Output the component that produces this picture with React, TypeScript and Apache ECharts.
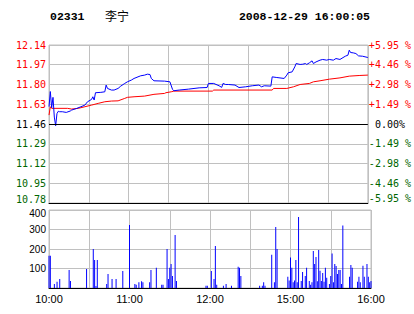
import React, { useEffect, useRef } from "react";
import * as echarts from "echarts";

const stockCode = "02331";
const stockName = "李宁";
const stamp = "2008-12-29 16:00:05";
const prevClose = 11.46;

const priceTicks = ["12.14", "11.97", "11.80", "11.63", "11.46", "11.29", "11.12", "10.95", "10.78"];
const pctTicks = ["+5.95 %", "+4.46 %", "+2.98 %", "+1.49 %", "\u00a00.00%", "-1.49 %", "-2.98 %", "-4.46 %", "-5.95 %"];
const volTicks = ["", "100", "200", "300", "400"];
const timeTickMinutes = [0, 60, 120, 180, 240];
const timeTickLabels = ["10:00", "11:00", "12:00", "15:00", "16:00"];

// [minute since 10:00 (trading minutes), price]
const priceSeries: [number, number][] = [
  [0, 11.61], [1, 11.74], [2, 11.6], [3, 11.69], [4, 11.52], [5, 11.445], [6, 11.55], [7, 11.57],
  [8, 11.566], [10, 11.566], [13, 11.56], [16, 11.572], [17, 11.58], [21, 11.595], [24, 11.609],
  [27, 11.623], [29, 11.652], [32, 11.672], [33, 11.695], [34, 11.667], [35, 11.73], [39, 11.733],
  [42, 11.738], [43, 11.796], [44, 11.767], [47, 11.753], [49, 11.753], [52, 11.767], [54, 11.787],
  [57, 11.81], [59, 11.824], [62, 11.839], [64, 11.853], [67, 11.867], [69, 11.876], [72, 11.882],
  [74, 11.89], [76, 11.887], [77, 11.853], [79, 11.833], [87, 11.83], [91, 11.824], [93, 11.758],
  [94, 11.747], [98, 11.753], [105, 11.761], [113, 11.772], [119, 11.775], [120, 11.81], [124, 11.81],
  [128, 11.79], [130, 11.776], [131, 11.81], [133, 11.801], [135, 11.801], [140, 11.796], [143, 11.775],
  [148, 11.781], [153, 11.79], [158, 11.796], [160, 11.781], [162, 11.79], [167, 11.787], [168, 11.867],
  [171, 11.862], [177, 11.853], [179, 11.882], [180, 11.902], [183, 11.91], [185, 11.953], [186, 11.982],
  [189, 11.974], [191, 11.976], [193, 11.982], [194, 11.974], [196, 11.988], [198, 12.005], [199, 11.982],
  [201, 11.996], [204, 12.011], [206, 12.017], [209, 12.011], [211, 12.017], [214, 12.011], [216, 12.025],
  [219, 12.017], [223, 12.045], [225, 12.054], [226, 12.097], [227, 12.077], [229, 12.074], [231, 12.068],
  [233, 12.048], [236, 12.045], [240, 12.034],
];

const avgSeries: [number, number][] = [
  [0, 11.537], [1, 11.609], [2, 11.595], [14, 11.595], [17, 11.589], [22, 11.595], [27, 11.609],
  [32, 11.623], [37, 11.638], [42, 11.652], [47, 11.658], [52, 11.66], [57, 11.681], [59, 11.69],
  [64, 11.695], [72, 11.701], [79, 11.716], [87, 11.724], [88, 11.73], [92, 11.738], [94, 11.744],
  [123, 11.744], [124, 11.753], [168, 11.753], [169, 11.767], [179, 11.767], [184, 11.781],
  [189, 11.801], [196, 11.81], [199, 11.824], [204, 11.833], [211, 11.847], [219, 11.858],
  [226, 11.873], [234, 11.879], [240, 11.882],
];

const volumes: [number, number][] = [
  [0, 165], [1, 165], [4, 20], [6, 32], [8, 46], [15, 92], [16, 36], [28, 97], [33, 200], [34, 143],
  [35, 10], [36, 143], [43, 20], [44, 72], [47, 46], [50, 46], [55, 87], [60, 323], [64, 20], [65, 17],
  [67, 30], [69, 34], [70, 30], [75, 30], [76, 92], [80, 104], [84, 17], [85, 17], [88, 200], [89, 46],
  [90, 104], [91, 123], [92, 61], [94, 272], [95, 36], [117, 12], [118, 12], [121, 87], [123, 46],
  [124, 215], [125, 17], [130, 12], [132, 20], [136, 12], [141, 109], [142, 104], [143, 61], [157, 12],
  [159, 12], [160, 29], [161, 12], [166, 170], [168, 29], [169, 313], [170, 200], [178, 58], [179, 38],
  [180, 156], [181, 104], [182, 29], [183, 38], [184, 143], [185, 29], [186, 364], [188, 36], [189, 82],
  [191, 61], [192, 104], [194, 36], [195, 17], [196, 29], [197, 190], [198, 123], [199, 159], [200, 34],
  [201, 195], [202, 89], [203, 36], [204, 77], [205, 32], [206, 104], [207, 52], [209, 20], [210, 61],
  [211, 177], [212, 29], [213, 123], [214, 113], [215, 72], [216, 92], [217, 92], [218, 20], [219, 320],
  [224, 58], [225, 118], [226, 104], [230, 32], [231, 58], [232, 29], [234, 114], [235, 58], [237, 123],
  [238, 58], [239, 29], [240, 36],
];

const RED = "#ff0000";
const GREEN = "#006600";
const BLUE = "#0000ff";
const GRID = "#c0c0c0";
const MONO = "DejaVu Sans Mono";
const SANS = "Liberation Sans";

const toPct = (p: number) => (p / prevClose - 1) * 100;
const tickIdx = (v: number) => Math.round((5.95 - v) / 1.4875);
const signStyle = (v: number) => (v > 0.001 ? "r" : v < -0.001 ? "g" : "k");

const monoRich = (padBottom: number) => ({
  r: { color: RED, fontFamily: MONO, fontSize: 10 },
  g: { color: GREEN, fontFamily: MONO, fontSize: 10 },
  k: { color: "#000", fontFamily: MONO, fontSize: 10 },
  gl: { color: GREEN, fontFamily: MONO, fontSize: 10, padding: [0, 0, padBottom, 0] },
});

export default function App() {
  const ref = useRef<HTMLDivElement>(null);
  useEffect(() => {
    if (!ref.current) return;
    const chart = echarts.init(ref.current, null, { renderer: "svg" });
    const split = { show: true, lineStyle: { color: GRID, width: 1 } };
    const fmt = (labels: string[]) => (v: number) => {
      const i = tickIdx(v);
      const t = labels[i] ?? "";
      if (i === labels.length - 1) return `{gl|${t}}`;
      return `{${signStyle(v)}|${t}}`;
    };
    chart.setOption({
      animation: false,
      backgroundColor: "#fff",
      grid: [
        { left: 49, top: 45, width: 322, height: 158, show: true, borderColor: GRID, borderWidth: 1 },
        { left: 49, top: 210, width: 322, height: 78, show: true, borderColor: GRID, borderWidth: 1 },
      ],
      graphic: [
        { type: "text", left: 50, top: 10, style: { text: stockCode, font: `bold 11.5px "Liberation Mono"`, fill: "#000" } },
        { type: "text", left: 105, top: 9, style: { text: stockName, font: `12px "Noto Sans CJK SC"`, fill: "#000" } },
        { type: "text", right: 44, top: 10, style: { text: stamp, font: `bold 11.5px "Liberation Mono"`, fill: "#000" } },
      ],
      xAxis: [
        {
          gridIndex: 0, type: "value", min: 0, max: 240, interval: 30,
          axisLine: { show: true, onZero: false, lineStyle: { color: "#000", width: 1 } },
          axisTick: { show: false }, axisLabel: { show: false }, splitLine: split,
        },
        {
          gridIndex: 1, type: "value", min: 0, max: 240, interval: 30,
          axisLine: { show: true, onZero: false, lineStyle: { color: "#000", width: 1 } },
          axisTick: { show: false }, splitLine: split,
          axisLabel: {
            show: true, showMinLabel: true, showMaxLabel: true, margin: 5,
            fontFamily: SANS, fontSize: 11, color: "#000",
            formatter: (v: number) => {
              const i = timeTickMinutes.indexOf(Math.round(v));
              return i >= 0 ? timeTickLabels[i] : "";
            },
          },
        },
      ],
      yAxis: [
        {
          gridIndex: 0, type: "value", min: -5.95, max: 5.95, interval: 1.4875,
          axisLine: { show: false }, axisTick: { show: false }, splitLine: split,
          axisLabel: { margin: 3, formatter: fmt(priceTicks), rich: monoRich(8) },
        },
        {
          gridIndex: 0, type: "value", position: "right", min: -5.95, max: 5.95, interval: 1.4875,
          axisLine: { show: false }, axisTick: { show: false }, splitLine: { show: false },
          axisLabel: { margin: 1, formatter: fmt(pctTicks), rich: monoRich(9) },
        },
        {
          gridIndex: 1, type: "value", min: 0, max: 400, interval: 100,
          axisLine: { show: false }, axisTick: { show: false }, splitLine: split,
          axisLabel: {
            margin: 3,
            formatter: (v: number) => {
              const i = Math.round(v / 100);
              const t = volTicks[i] ?? "";
              if (!t) return "";
              return i === volTicks.length - 1 ? `{top|${t}}` : `{n|${t}}`;
            },
            rich: {
              n: { fontFamily: SANS, fontSize: 10, color: "#000" },
              top: { fontFamily: SANS, fontSize: 10, color: "#000", padding: [6, 0, 0, 0] },
            },
          },
        },
      ],
      series: [
        {
          type: "line", xAxisIndex: 0, yAxisIndex: 0, z: 2, showSymbol: false, silent: true,
          data: avgSeries.map(([m, p]) => [m, toPct(p)]),
          lineStyle: { color: RED, width: 1 },
        },
        {
          type: "line", xAxisIndex: 0, yAxisIndex: 0, z: 3, showSymbol: false, silent: true,
          data: priceSeries.map(([m, p]) => [m, toPct(p)]),
          lineStyle: { color: BLUE, width: 1 },
          markLine: {
            silent: true, symbol: ["none", "none"], label: { show: false },
            lineStyle: { color: "#000", type: "solid", width: 1 },
            data: [{ yAxis: 0 }],
          },
        },
        {
          type: "bar", xAxisIndex: 1, yAxisIndex: 2, barWidth: 1, silent: true,
          data: volumes,
          itemStyle: { color: BLUE },
        },
      ],
    });
    return () => chart.dispose();
  }, []);
  return <div ref={ref} style={{ position: "fixed", left: 0, top: 0, width: 414, height: 314 }} />;
}
